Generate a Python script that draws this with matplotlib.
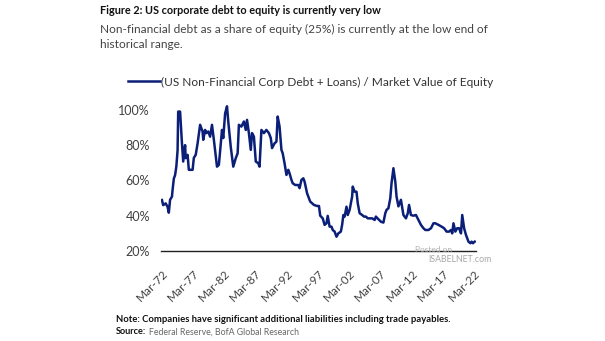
import matplotlib
matplotlib.use("Agg")
import matplotlib.pyplot as plt
from matplotlib.ticker import FixedLocator, FixedFormatter

plt.rcParams['font.family'] = ['Lato', 'DejaVu Sans']

# quarterly-ish readings, decimal year vs % of market value of equity
years = [
    1972.0, 1972.2, 1972.6, 1972.9, 1973.1, 1973.3, 1973.6, 1973.7, 1973.9, 1974.1,
    1974.3, 1974.5, 1974.6, 1974.9, 1975.2, 1975.4, 1975.7, 1975.8, 1976.1, 1976.3,
    1976.9, 1977.1, 1977.4, 1977.7, 1978.1, 1978.5, 1978.6, 1978.9, 1979.1, 1979.4,
    1979.7, 1980.0, 1980.3, 1980.8, 1981.1, 1981.6, 1981.8, 1982.1, 1982.4, 1982.6,
    1983.0, 1983.4, 1983.8, 1984.1, 1984.3, 1984.7, 1985.1, 1985.4, 1985.6, 1985.9,
    1986.2, 1986.4, 1986.7, 1987.0, 1987.4, 1987.6, 1987.9, 1988.3, 1988.7, 1989.1,
    1989.4, 1989.6, 1990.0, 1990.3, 1990.5, 1990.8, 1991.1, 1991.3, 1991.6, 1991.9,
    1992.2, 1992.4, 1992.7, 1992.9, 1993.3, 1993.8, 1994.0, 1994.3, 1994.6, 1994.8,
    1995.2, 1995.7, 1996.3, 1996.8, 1997.1, 1997.3, 1997.7, 1998.0, 1998.3, 1998.5,
    1998.8, 1999.1, 1999.3, 1999.6, 1999.9, 2000.2, 2000.6, 2000.8, 2001.0, 2001.2,
    2001.5, 2001.7, 2002.0, 2002.4, 2002.5, 2002.8, 2003.1, 2003.3, 2003.6, 2004.0,
    2004.3, 2004.6, 2004.9, 2005.3, 2005.6, 2006.0, 2006.2, 2006.6, 2007.0, 2007.4,
    2007.7, 2007.9, 2008.2, 2008.5, 2008.7, 2009.0, 2009.3, 2009.5, 2009.8, 2010.2,
    2010.6, 2011.0, 2011.3, 2011.5, 2011.8, 2012.2, 2012.6, 2013.0, 2013.4, 2013.8,
    2014.1, 2014.6, 2015.0, 2015.4, 2015.7, 2016.2, 2016.7, 2017.1, 2017.5, 2017.9,
    2018.2, 2018.4, 2018.6, 2018.9, 2019.2, 2019.5, 2019.8, 2020.0, 2020.3, 2020.6,
    2021.0, 2021.3, 2021.5, 2021.7, 2022.0,
]
debt_to_equity = [
    48.9, 46.0, 47.0, 45.0, 41.7, 49.0, 50.8, 54.6, 61.0, 63.0,
    67.8, 77.0, 99.0, 99.0, 81.0, 70.7, 80.0, 72.6, 74.5, 66.0,
    66.0, 72.8, 74.5, 81.0, 91.5, 87.7, 83.0, 88.6, 86.8, 87.7,
    84.8, 91.5, 83.0, 67.8, 68.8, 88.6, 84.0, 98.0, 102.0, 93.4,
    79.0, 67.8, 72.6, 75.4, 91.5, 90.5, 93.4, 88.6, 94.3, 86.8,
    77.3, 86.8, 84.8, 70.7, 69.7, 67.8, 88.6, 86.8, 88.6, 86.8,
    84.0, 78.3, 81.0, 82.0, 96.2, 90.5, 77.3, 75.4, 69.7, 63.1,
    66.0, 64.0, 60.3, 58.4, 57.4, 57.4, 55.6, 60.3, 61.2, 59.3,
    52.7, 48.0, 46.1, 45.5, 45.5, 40.0, 38.5, 34.8, 35.7, 39.9,
    33.8, 33.8, 31.9, 31.0, 28.1, 30.0, 31.0, 34.8, 40.4, 39.5,
    45.1, 40.4, 43.3, 50.8, 56.5, 53.6, 53.6, 47.0, 41.4, 40.4,
    39.5, 39.5, 38.5, 38.5, 38.5, 37.6, 39.5, 38.0, 36.6, 36.1,
    41.4, 43.3, 44.2, 49.9, 58.4, 66.9, 59.3, 50.8, 45.3, 49.0,
    40.4, 38.5, 41.4, 46.1, 40.4, 40.0, 40.4, 37.6, 34.8, 32.9,
    31.9, 31.9, 32.9, 35.7, 35.7, 34.8, 33.8, 32.9, 31.0, 31.0,
    31.9, 30.0, 35.7, 31.0, 32.9, 32.9, 30.0, 40.4, 32.9, 29.1,
    25.3, 24.4, 25.3, 24.4, 25.3,
]

tick_years = [1972, 1977, 1982, 1987, 1992, 1997, 2002, 2007, 2012, 2017, 2022]
tick_labels = ['Mar-72', 'Mar-77', 'Mar-82', 'Mar-87', 'Mar-92', 'Mar-97',
               'Mar-02', 'Mar-07', 'Mar-12', 'Mar-17', 'Mar-22']
y_ticks = [20, 40, 60, 80, 100]

W, H = 605, 341
fig = plt.figure(figsize=(W / 100, H / 100), dpi=100)
ax = fig.add_axes([161 / W, 1 - 251 / H, (476 - 161) / W, (251 - 101) / H])

line, = ax.plot(years, debt_to_equity, color='#0b1f78', lw=1.8,
                solid_joinstyle='round',
                label='(US Non-Financial Corp Debt + Loans) / Market Value of Equity')

ax.set_xlim(1971.85, 2022.2)
ax.set_ylim(20, 105)
for s in ['top', 'right', 'left']:
    ax.spines[s].set_visible(False)
ax.spines['bottom'].set_color('#222222')
ax.spines['bottom'].set_linewidth(1.0)

ax.yaxis.set_major_locator(FixedLocator(y_ticks))
ax.set_yticklabels([f'{v}%' for v in y_ticks])
ax.xaxis.set_major_locator(FixedLocator(tick_years))
ax.xaxis.set_major_formatter(FixedFormatter(tick_labels))
ax.tick_params(axis='y', length=0, pad=8, labelsize=9, labelcolor='#404040')
ax.tick_params(axis='x', length=0, pad=12, labelsize=8.5, labelcolor='#404040')
for lbl in ax.get_xticklabels():
    lbl.set_rotation(45)
    lbl.set_ha('right')
    lbl.set_va('top')
    lbl.set_rotation_mode('anchor')

fig.legend(handles=[line], loc='center left',
           bbox_to_anchor=(128 / W, 1 - 82 / H), frameon=False,
           fontsize=8.6, handlelength=2.7, handletextpad=0.1,
           borderpad=0, borderaxespad=0, labelcolor='#333333')

# headline, subtitle and footnotes
fig.text(100 / W, 1 - 10 / H, 'Figure 2: US corporate debt to equity is currently very low',
         fontsize=7.8, fontweight='bold', color='#111111', va='center')
fig.text(100 / W, 1 - 29 / H,
         'Non-financial debt as a share of equity (25%) is currently at the low end of',
         fontsize=8.6, color='#444444', va='center')
fig.text(100 / W, 1 - 44 / H, 'historical range.',
         fontsize=8.6, color='#444444', va='center')
fig.text(116 / W, 1 - 319 / H,
         'Note: Companies have significant additional liabilities including trade payables.',
         fontsize=6.8, fontweight='bold', color='#111111', va='center')
fig.text(116 / W, 1 - 332 / H, 'Source:', fontsize=6.6, fontweight='bold',
         color='#111111', va='center')
fig.text(149 / W, 1 - 332 / H, 'Federal Reserve, BofA Global Research',
         fontsize=6.3, color='#666666', va='center')

# site watermark
fig.text(415 / W, 1 - 249 / H, 'Posted on', fontsize=6, color='#b0b0b0', va='center')
fig.text(428 / W, 1 - 260 / H, 'ISABELNET.com', fontsize=6.3, color='#a8a8a8', va='center')

fig.savefig('out.png', dpi=100)
